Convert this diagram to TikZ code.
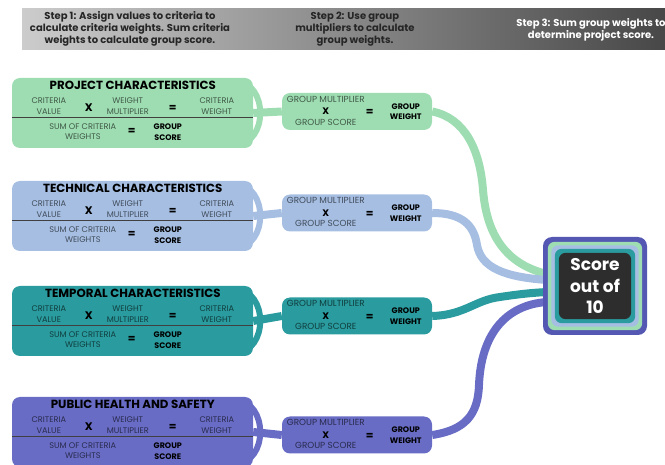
\documentclass[tikz,border=0pt]{standalone}
\usepackage{fontspec}
\setmainfont{Poppins}
\usetikzlibrary{backgrounds}

\definecolor{cgreen}{RGB}{158,221,178}
\definecolor{cblue}{RGB}{165,190,226}
\definecolor{cteal}{RGB}{42,155,158}
\definecolor{cpurple}{RGB}{104,108,196}
\definecolor{cborder}{RGB}{84,88,178}
\definecolor{cdark}{RGB}{45,45,45}

\tikzset{
  grpbox/.style={rounded corners=8pt, minimum width=241pt, minimum height=70pt, inner sep=0pt},
  mulbox/.style={rounded corners=8pt, minimum width=150pt, minimum height=37pt, inner sep=0pt},
  lbl/.style={font=\fontsize{8.2}{10.5}\selectfont, align=center, text=black, text opacity=0.6, inner sep=0pt},
  lblbold/.style={font=\bfseries\fontsize{8}{10.5}\selectfont, align=center, inner sep=0pt},
  opsign/.style={font=\bfseries\fontsize{11}{11}\selectfont, inner sep=0pt},
  ttlbox/.style={font=\bfseries\fontsize{11.8}{13}\selectfont, inner sep=0pt},
  steptxt/.style={font=\bfseries\fontsize{10}{12}\selectfont, align=center, text=black!85, inner sep=0pt},
  scorebox/.style={fill=cborder, rounded corners=9pt, minimum width=104pt, minimum height=98pt, inner sep=0pt},
  scoretxt/.style={font=\bfseries\fontsize{17}{21.5}\selectfont, align=center, text=white, inner sep=0pt},
  wire/.style={line width=8pt},
}

\begin{document}
\begin{tikzpicture}[x=1pt,y=-1pt]
  \useasboundingbox (0,0) rectangle (665,465);

  % Header
  \shade[left color=black!20, right color=black!72] (22,9) rectangle (665,50);
  \node[steptxt] (step1) at (130,29) {Step 1: Assign values to criteria to\\calculate criteria weights. Sum criteria\\weights to calculate group score.};
  \node[steptxt] (step2) at (355,29) {Step 2: Use group\\multipliers to calculate\\group weights.};
  \node[steptxt, text=white] (step3) at (591,30) {Step 3: Sum group weights to\\determine project score.};

  % Score
  \node[scorebox] (score) at (595,286) {};
  \foreach \ins/\clr in {5/cgreen,8.5/cblue,12/cteal,16/cdark}
    \fill[\clr, rounded corners=7pt] ([shift={(\ins,\ins)}]score.north west) rectangle ([shift={(-\ins,-\ins)}]score.south east);
  \node[scoretxt] (scorelbl) at (score) {Score\\out of\\10};

  % Groups
  \foreach \grp/\clr/\y/\ym/\ttl in {proj/cgreen/78/111.5/PROJECT CHARACTERISTICS,
                                     tech/cblue/181/213/TECHNICAL CHARACTERISTICS,
                                     temp/cteal/286/316/TEMPORAL CHARACTERISTICS,
                                     pub/cpurple/397/435/PUBLIC HEALTH AND SAFETY}
    {
      \node[grpbox, fill=\clr] (\grp) at (132.5,\y+35) {};
      \node[mulbox, fill=\clr] (\grp m) at (357,\ym) {};
      \begin{scope}[on background layer]
        \draw[\clr, line width=6pt] ([shift={(-13,-30)}]\grp.east) arc[start angle=90, end angle=-90, x radius=20pt, y radius=30pt];
        \draw[\clr, line width=8pt] (\grp.east) -- (\grp m.west);
      \end{scope}

      \node[ttlbox] (\grp-t) at ([shift={(121,7.5)}]\grp.north west) {\ttl};
      \node[lbl] (\grp-cv) at ([shift={(37,28.5)}]\grp.north west) {CRITERIA\\VALUE};
      \node[opsign] (\grp-x) at ([shift={(77,30)}]\grp.north west) {X};
      \node[lbl] (\grp-wm) at ([shift={(116,28.5)}]\grp.north west) {WEIGHT\\MULTIPLIER};
      \node[opsign] (\grp-e1) at ([shift={(161,30.5)}]\grp.north west) {=};
      \node[lbl] (\grp-cw) at ([shift={(205,28.5)}]\grp.north west) {CRITERIA\\WEIGHT};
      \draw[black!75, line width=0.8pt] ([shift={(0,40)}]\grp.north west) -- ([shift={(0,40)}]\grp.north east);
      \node[lbl] (\grp-sum) at ([shift={(71,54)}]\grp.north west) {SUM OF CRITERIA\\WEIGHTS};
      \node[lblbold] (\grp-gs) at ([shift={(156,54.5)}]\grp.north west) {GROUP\\SCORE};

      \node[lbl, font=\fontsize{8.8}{9}\selectfont] (\grp-gm) at ([shift={(44,6.5)}]\grp m.north west) {GROUP MULTIPLIER};
      \node[opsign, font=\bfseries\fontsize{9.5}{9}\selectfont] (\grp-x2) at ([shift={(44,18.5)}]\grp m.north west) {X};
      \node[lbl, font=\fontsize{8.8}{9}\selectfont] (\grp-gsc) at ([shift={(44,29.5)}]\grp m.north west) {GROUP SCORE};
      \node[opsign] (\grp-e3) at ([shift={(88,20)}]\grp m.north west) {=};
      \node[lblbold] (\grp-gw) at ([shift={(124,19)}]\grp m.north west) {GROUP\\WEIGHT};
    }
  \foreach \grp in {proj,tech,temp}
    \node[opsign] (\grp-e2) at ([shift={(120,54)}]\grp.north west) {=};

  % Weights to score
  \begin{scope}[on background layer]
    \draw[wire, cgreen] (projm.east) .. controls (465,118) and (480,150) .. (483,190) .. controls (487,240) and (510,265) .. ([shift={(4,-12)}]score.west);
    \draw[wire, cblue] (techm.east) .. controls (462,213) and (474,225) .. (477,245) .. controls (481,268) and (505,277) .. ([shift={(4,-6)}]score.west);
    \draw[wire, cteal] (tempm.east) .. controls (465,315) and (475,300) .. (500,297) .. controls (520,294) and (530,293) .. ([shift={(4,6)}]score.west);
    \draw[wire, cpurple] (pubm.east) .. controls (465,430) and (478,415) .. (479,385) .. controls (481,335) and (505,305) .. ([shift={(4,16)}]score.west);
  \end{scope}
\end{tikzpicture}
\end{document}
